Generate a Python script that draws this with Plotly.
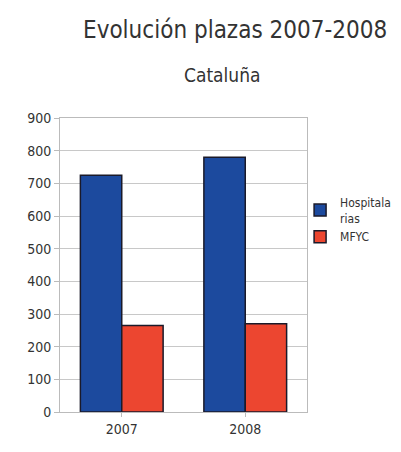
import plotly.graph_objects as go

years = ["2007", "2008"]
hospitalarias = [725, 780]
mfyc = [265, 270]
y_ticks = [0, 100, 200, 300, 400, 500, 600, 700, 800, 900]

FONT = "DejaVu Sans Condensed, Liberation Sans Narrow, DejaVu Sans, sans-serif"

fig = go.Figure()
fig.add_trace(go.Bar(x=years, y=hospitalarias, name="Hospitala<br>rias",
                     marker=dict(color="#1C4A9E", line=dict(color="#1a1a2a", width=1.5))))
fig.add_trace(go.Bar(x=years, y=mfyc, name="MFYC",
                     marker=dict(color="#EC4630", line=dict(color="#1a1a2a", width=1.5))))

fig.update_layout(
    width=401, height=452,
    paper_bgcolor="white", plot_bgcolor="white",
    margin=dict(l=52, r=102, t=110, b=48, autoexpand=False),
    barmode="group", bargap=0.33, bargroupgap=0,
    font=dict(family=FONT, color="#333333", size=13),
    showlegend=True,
    legend=dict(x=0.972, y=0.762, xanchor="left", yanchor="top",
                font=dict(size=12, color="#333333"), tracegroupgap=2,
                itemwidth=30, bgcolor="rgba(0,0,0,0)"),
    xaxis=dict(showgrid=False, showline=True, linecolor="#bbbbbb", mirror=True,
               ticks="outside", ticklen=4, tickcolor="#bbbbbb",
               tickfont=dict(size=14, color="#333333")),
    yaxis=dict(range=[0, 900], tickvals=y_ticks, showgrid=True, gridcolor="#c8c8c8",
               showline=True, linecolor="#bbbbbb", mirror=True,
               ticks="outside", ticklen=5, tickcolor="#bbbbbb",
               tickfont=dict(size=14, color="#333333"), zeroline=False),
)

fig.add_annotation(text="Evolución plazas 2007-2008", xref="paper", yref="paper",
                   x=(235 - 60) / 247, y=(412 - 30) / 294, xanchor="center", yanchor="middle",
                   showarrow=False, font=dict(family=FONT, size=24, color="#333333"))
fig.add_annotation(text="Cataluña", xref="paper", yref="paper",
                   x=(222 - 60) / 247, y=(412 - 75) / 294, xanchor="center", yanchor="middle",
                   showarrow=False, font=dict(family=FONT, size=19, color="#333333"))

fig.write_html("out.html")
